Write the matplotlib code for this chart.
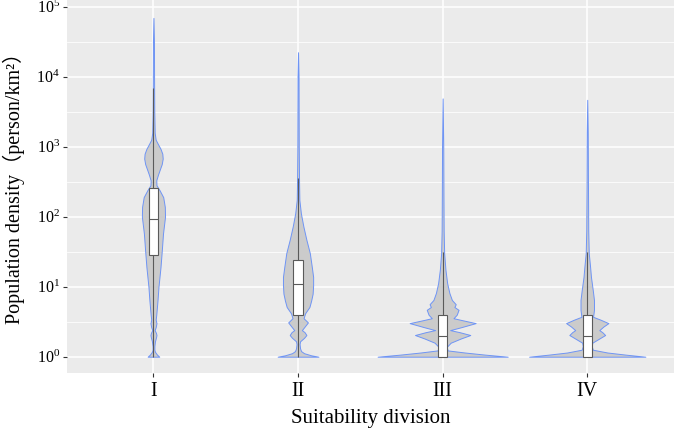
import numpy as np
import matplotlib
matplotlib.use("Agg")
import matplotlib.pyplot as plt
from matplotlib.ticker import FixedLocator, FixedFormatter, NullFormatter

plt.rcParams['font.family'] = 'Liberation Serif'
plt.rcParams['mathtext.fontset'] = 'custom'
plt.rcParams['mathtext.rm'] = 'Liberation Serif'

categories = ['I', 'II', 'III', 'IV']

# violin outlines: log10(population density) levels and relative density (half width)
lev_I = [0, 0.03, 0.07, 0.1, 0.15, 0.22, 0.28, 0.31, 0.34, 0.38, 0.42, 0.48, 0.53, 0.6, 0.8, 1.0,
         1.28, 1.5, 1.76, 2.0, 2.14, 2.28, 2.38, 2.45, 2.52, 2.6, 2.67, 2.75, 2.83, 2.9, 2.97,
         3.05, 3.1, 3.2, 3.5, 4.0, 4.5, 4.84]
den_I = [5.8, 3.5, 1.5, 0.9, 0.9, 1.5, 2.6, 3.0, 2.5, 1.2, 2.2, 3.0, 2.2, 2.8, 4.0, 5.0,
         7.0, 8.2, 9.5, 11.5, 11.3, 9.7, 6.0, 3.0, 2.8, 4.5, 6.2, 8.2, 9.2, 8.8, 7.0,
         4.0, 2.2, 1.2, 0.8, 0.6, 0.5, 0.0]

lev_II = [0, 0.02, 0.05, 0.08, 0.12, 0.18, 0.22, 0.27, 0.31, 0.35, 0.38, 0.42, 0.49, 0.55, 0.62,
          0.71, 0.8, 0.9, 1.02, 1.14, 1.28, 1.48, 1.67, 1.86, 2.05, 2.24, 2.5, 3.0, 3.5, 4.0, 4.35]
den_II = [20.3, 13, 6, 3, 2, 1.5, 2.0, 6.0, 8.3, 6.5, 3.8, 6.0, 9.8, 5.5, 7.0,
          11.3, 13.0, 14.5, 15.0, 15.0, 13.7, 11.7, 8.3, 5.3, 2.8, 1.3, 1.0, 0.7, 0.6, 0.5, 0.0]

lev_III = [0, 0.03, 0.06, 0.09, 0.14, 0.2, 0.26, 0.31, 0.35, 0.38, 0.42, 0.48, 0.52, 0.55, 0.6,
           0.67, 0.71, 0.75, 0.81, 0.91, 1.05, 1.24, 1.48, 1.8, 2.3, 3.0, 3.69]
den_III = [64.7, 42, 22, 5, 4, 8, 18, 27.5, 17, 7.5, 18, 32.8, 20, 10.8, 14,
           15.8, 11.7, 13, 9.2, 6.7, 4.5, 2.8, 1.5, 1.0, 0.8, 0.6, 0.0]

lev_IV = [0, 0.03, 0.06, 0.1, 0.15, 0.2, 0.26, 0.31, 0.35, 0.38, 0.43, 0.48, 0.53, 0.57, 0.67,
          0.81, 0.95, 1.14, 1.29, 1.48, 1.8, 2.5, 3.2, 3.67]
den_IV = [57.8, 38, 20, 5.5, 4.5, 5, 12, 17.8, 15, 12, 16, 21, 13, 5.8, 6.7,
          6.7, 5.5, 3.7, 2.8, 1.5, 1.0, 0.7, 0.5, 0.0]

# box statistics in log10 units: lower whisker, Q1, median, Q3, upper whisker
whislo = [0.0, 0.0, 0.0, 0.0]
q1 = [1.46, 0.60, 0.0, 0.0]
med = [1.97, 1.04, 0.30, 0.30]
q3 = [2.41, 1.38, 0.60, 0.60]
whishi = [3.84, 2.55, 1.50, 1.50]

ytick_exp = [0, 1, 2, 3, 4, 5]
ytick_labels = [r'$\mathregular{10^{%d}}$' % e for e in ytick_exp]

levels = [lev_I, lev_II, lev_III, lev_IV]
dens = [den_I, den_II, den_III, den_IV]

fig = plt.figure(figsize=(6.75, 4.32), dpi=100)
ax = fig.add_axes([66.7 / 675, 58.7 / 432, 607.3 / 675, 373.3 / 432])
ax.set_facecolor('#EBEBEB')
for s in ax.spines.values():
    s.set_visible(False)

maxd = max(max(d) for d in dens)
for i, (lv, dn) in enumerate(zip(levels, dens)):
    pos = i + 1
    y = np.power(10.0, np.array(lv, dtype=float))
    w = np.array(dn, dtype=float) / maxd * 0.45
    ax.fill_betweenx(y, pos - w, pos + w, facecolor='#CBCBCB', edgecolor='#6E94F5',
                     linewidth=0.7, zorder=2)

for i in range(len(categories)):
    pos = i + 1
    ax.vlines(pos, 10.0 ** whislo[i], 10.0 ** q1[i], color='#5A5A5A', linewidth=0.8, zorder=3)
    ax.vlines(pos, 10.0 ** q3[i], 10.0 ** whishi[i], color='#5A5A5A', linewidth=0.8, zorder=3)
    ax.bar(pos, 10.0 ** q3[i] - 10.0 ** q1[i], bottom=10.0 ** q1[i], width=0.065,
           facecolor='white', edgecolor='#5A5A5A', linewidth=0.8, zorder=4)
    ax.hlines(10.0 ** med[i], pos - 0.0325, pos + 0.0325, color='#5A5A5A', linewidth=0.8, zorder=5)

ax.set_yscale('log')
ax.set_ylim(10 ** -0.237, 10 ** 5.096)
ax.set_xlim(0.4, 4.6)
ax.yaxis.set_major_locator(FixedLocator([10.0 ** e for e in ytick_exp]))
ax.yaxis.set_major_formatter(FixedFormatter(ytick_labels))
ax.yaxis.set_minor_locator(FixedLocator([10.0 ** (e + 0.5) for e in ytick_exp[:-1]]))
ax.yaxis.set_minor_formatter(NullFormatter())
ax.set_xticks([1, 2, 3, 4])
ax.set_xticklabels(categories)

ax.grid(True, which='major', color='white', linewidth=1.1, zorder=0)
ax.grid(True, which='minor', axis='y', color='white', linewidth=0.55, zorder=0)
ax.set_axisbelow(True)

ax.tick_params(axis='both', which='major', length=3, color='#333333', width=0.8)
ax.tick_params(axis='y', which='minor', length=0)
ax.tick_params(axis='y', labelsize=11.5, pad=2, labelcolor='black')
ax.tick_params(axis='x', labelsize=14.5, pad=3, labelcolor='black')

ax.set_xlabel('Suitability division', fontsize=15)
ax.xaxis.label.set_va('center')
ax.xaxis.set_label_coords(0.5, (373.3 - 418) / 373.3)
ax.set_ylabel('Population density（person/km²）', fontsize=14.5,
              family=['Liberation Serif', 'Noto Sans CJK SC'])
ax.yaxis.label.set_va('center')
ax.yaxis.set_label_coords((14 - 66.7) / 607.3, 0.51)

fig.savefig('out.png', dpi=100)
